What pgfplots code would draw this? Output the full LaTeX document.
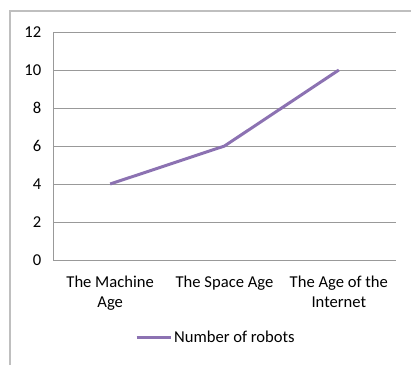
\documentclass[border=0pt]{standalone}
\usepackage{fontspec}
\setmainfont{Carlito}
\usepackage{pgfplots}
\pgfplotsset{compat=1.18}
\definecolor{robotpurple}{HTML}{8C72B2}
\definecolor{gridgray}{HTML}{999999}
\definecolor{framegray}{HTML}{BFBFBF}
\begin{document}
\fontsize{16.6}{20}\selectfont
\begin{tikzpicture}
\useasboundingbox (0pt,0pt) rectangle (411pt,365pt);
% chart frame (left and top edges only)
\draw[framegray, line width=1.2pt] (10pt,0pt) -- (10pt,354pt) -- (411pt,354pt);
\begin{axis}[
  at={(53pt,105pt)}, anchor=south west,
  scale only axis, width=343pt, height=228pt,
  xmin=-0.5, xmax=2.5, ymin=0, ymax=12,
  ytick={0,2,...,12},
  xtick={0,1,2},
  xticklabels={{The Machine\\Age},{The Space Age},{The Age of the\\Internet}},
  x tick label style={align=center, yshift=-10pt},
  y tick label style={xshift=-6pt},
  /pgf/number format/assume math mode=true,
  major tick length=0pt,
  axis lines*=left,
  axis line style={gridgray, line width=0.9pt},
  ymajorgrids,
  major grid style={gridgray, line width=0.9pt},
  legend style={at={(0.475,-0.342)}, anchor=center, draw=none, fill=none,
    inner sep=0pt, column sep=0pt},
  legend cell align=left,
  legend image code/.code={\draw[#1] (0pt,0pt) -- (34pt,0pt);},
  every axis legend/.append style={font=\fontsize{16.6}{20}\selectfont},
]
\addplot[robotpurple, line width=3pt, line join=round] coordinates {(0,4) (1,6) (2,10)};
\addlegendentry{Number of robots}
\end{axis}
\end{tikzpicture}
\end{document}
